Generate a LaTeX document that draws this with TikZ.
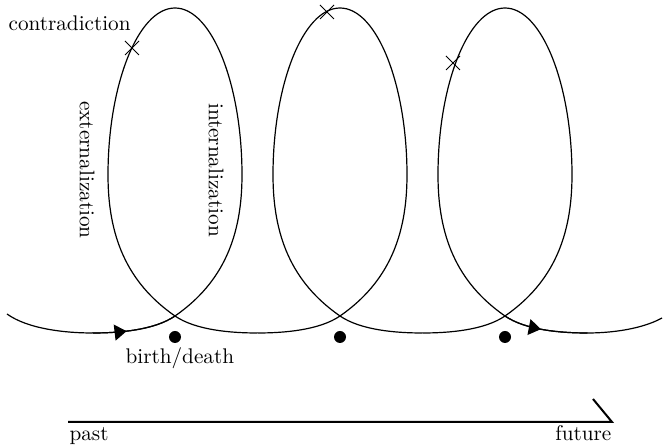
\documentclass[tikz,border=0pt]{standalone}
\usetikzlibrary{arrows.meta,decorations.markings,shapes.misc}
\begin{document}
\begin{tikzpicture}[x=0.5pt,y=-0.5pt,line width=0.6pt,
	every node/.style={font=\fontsize{10.6}{12}\selectfont,inner sep=0pt},
	xmark/.style={draw,cross out,minimum size=6.5pt,line width=0.5pt},
	dot/.style={circle,fill,minimum size=6pt},
	midarrow/.style={decoration={markings,mark=at position #1 with {\arrow{Triangle[length=6pt,width=8pt]}}},postaction=decorate}]
	\useasboundingbox (0,0) rectangle (665,448);
	% one loop for each life
	\foreach \c [count=\i] in {175,340,505} {
		\coordinate (T\i) at (\c-82.5,333);
		\coordinate (C\i) at (\c,316);
		\coordinate (R\i) at (\c+67,175);
		\coordinate (P\i) at (\c,8);
		\coordinate (L\i) at (\c-67,175);
		\coordinate (U\i) at (\c+82.5,333);
		\draw (T\i) .. controls (\c-55,333) and (\c-20.5,330) .. (C\i)
			.. controls (\c+49,282) and (\c+67,235) .. (R\i)
			.. controls (\c+67,85) and (\c+37,8) .. (P\i)
			.. controls (\c-37,8) and (\c-67,85) .. (L\i)
			.. controls (\c-67,235) and (\c-49,282) .. (C\i)
			.. controls (\c+20.5,330) and (\c+55,333) .. (U\i);
		\node[dot] (D\i) at (\c,337) {};
	}
	\coordinate (S) at (7,314);
	\coordinate (E) at (662,318);
	\draw (S) .. controls (28,329) and (65,333) .. (T1);
	\draw (U3) .. controls (612,333) and (642,329) .. (E);
	\draw[midarrow=0.4] (T1) .. controls (120,333) and (154.5,330) .. (C1);
	\draw[midarrow=0.45] (C3) .. controls (525.5,330) and (560,333) .. (U3);
	% contradictions
	\node[xmark] (X1) at (132,48) {};
	\node[xmark] (X2) at (327,12) {};
	\node[xmark] (X3) at (453,63) {};
	% labels
	\node[anchor=base west] (contra) at (8,31) {contradiction};
	\node[rotate=-90] (ext) at (87,170) {externalization};
	\node[rotate=-90] (int) at (216,170) {internalization};
	\node[anchor=base west] (bd) at (125,364) {birth/death};
	% time line
	\coordinate (past) at (68,422);
	\coordinate (fut) at (612,422);
	\coordinate (tick) at (593,399);
	\draw[line width=1pt] (past) -- (fut) -- (tick);
	\node[anchor=base west] (pastlbl) at (69,441) {past};
	\node[anchor=base east] (futlbl) at (612,441) {future};
\end{tikzpicture}
\end{document}
